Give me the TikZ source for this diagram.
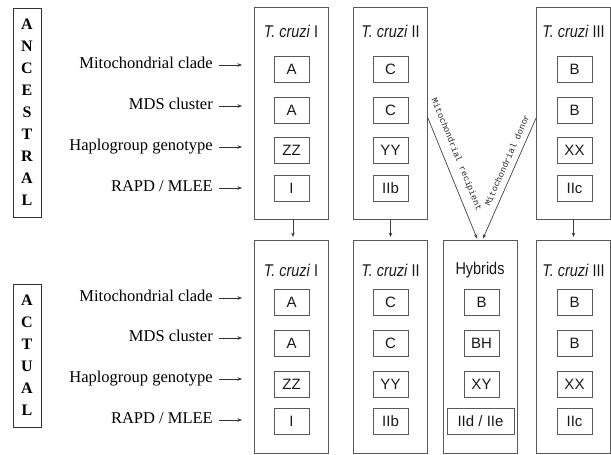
\documentclass[tikz,border=0pt]{standalone}
\usepackage{fontspec}
\setmainfont{Liberation Serif}
\setsansfont{Liberation Sans}
\setmonofont{Liberation Mono}
\newfontfamily\narrowsans[FakeStretch=0.85]{Liberation Sans}
\usetikzlibrary{arrows.meta,calc}
\begin{document}
\begin{tikzpicture}[x=1pt,y=-1pt,
  ln/.style={draw=black!65, line width=0.8pt},
  col/.style={ln, rectangle, minimum width=74pt, inner sep=0pt},
  topcol/.style={col, minimum height=212pt},
  botcol/.style={col, minimum height=213pt},
  ibox/.style={ln, rectangle, minimum width=35pt, minimum height=26pt, inner sep=0pt, font=\fontsize{15}{15}\sffamily, text=black!90},
  ttl/.style={font=\fontsize{17}{17}\narrowsans, text=black!90, inner sep=0pt},
  lbl/.style={anchor=east, font=\fontsize{16.5}{16.5}\selectfont, inner sep=0pt, text height=11pt, text depth=3.5pt},
  side/.style={draw=black!80, line width=0.8pt, font=\fontsize{16}{22}\selectfont\bfseries, align=center, inner sep=0pt, minimum width=28pt},
  tip/.style={-{Stealth[length=4.5pt,width=3.5pt]}},
  mono/.style={font=\fontsize{8.7}{8.7}\ttfamily, inner sep=0pt, text=black!85},
]
\useasboundingbox (0,0) rectangle (611,455);

% side boxes
\node[side, minimum height=209pt] (anc) at (27,112.5) {A\\N\\C\\E\\S\\T\\R\\A\\L};
\node[side, minimum height=143pt] (act) at (27,355.5) {A\\C\\T\\U\\A\\L};

% labels top
\node[lbl] (l1) at (213,65) {Mitochondrial clade};
\node[lbl] (l2) at (213,106) {MDS cluster};
\node[lbl] (l3) at (213,147) {Haplogroup genotype};
\node[lbl] (l4) at (213,188) {RAPD / MLEE};
% labels bottom
\node[lbl] (m1) at (213,298) {Mitochondrial clade};
\node[lbl] (m2) at (213,338) {MDS cluster};
\node[lbl] (m3) at (213,379) {Haplogroup genotype};
\node[lbl] (m4) at (213,420) {RAPD / MLEE};
\foreach \n in {l1,l2,l3,l4,m1,m2,m3,m4}
  \draw[black!80, line width=0.6pt, tip] ([xshift=6pt]\n.east) -- ([xshift=29pt]\n.east);

% columns top
\node[topcol] (t1) at (291,113) {};
\node[topcol] (t2) at (390.5,113) {};
\node[topcol] (t3) at (573.5,113) {};
% columns bottom
\node[botcol] (b1) at (291,346.5) {};
\node[botcol] (b2) at (390.5,346.5) {};
\node[botcol] (hy) at (480,346.5) {};
\node[botcol] (b3) at (573.5,346.5) {};

% titles
\node[ttl] (tt1) at (291,31) {\textit{T. cruzi} I};
\node[ttl] (tt2) at (390.5,31) {\textit{T. cruzi} II};
\node[ttl] (tt3) at (573.5,31) {\textit{T. cruzi} III};
\node[ttl] (bt1) at (291,270) {\textit{T. cruzi} I};
\node[ttl] (bt2) at (390.5,270) {\textit{T. cruzi} II};
\node[ttl] (bth) at (480,270) {Hybrids};
\node[ttl] (bt3) at (573.5,270) {\textit{T. cruzi} III};

% inner boxes top
\node[ibox] (t1a) at (291.5,69.5) {A};
\node[ibox] (t1b) at (291.5,110) {A};
\node[ibox] (t1c) at (291.5,150) {ZZ};
\node[ibox] (t1d) at (291.5,188.5) {I};
\node[ibox] (t2a) at (390.5,69.5) {C};
\node[ibox] (t2b) at (390.5,110) {C};
\node[ibox] (t2c) at (390.5,150) {YY};
\node[ibox] (t2d) at (390.5,188.5) {IIb};
\node[ibox] (t3a) at (574.5,69.5) {B};
\node[ibox] (t3b) at (574.5,110) {B};
\node[ibox] (t3c) at (574.5,150) {XX};
\node[ibox] (t3d) at (574.5,188.5) {IIc};
% inner boxes bottom
\node[ibox] (b1a) at (291.5,302.5) {A};
\node[ibox] (b1b) at (291.5,343.5) {A};
\node[ibox] (b1c) at (291.5,384) {ZZ};
\node[ibox] (b1d) at (291.5,421) {I};
\node[ibox] (b2a) at (390.5,302.5) {C};
\node[ibox] (b2b) at (390.5,343.5) {C};
\node[ibox] (b2c) at (390.5,384) {YY};
\node[ibox] (b2d) at (390.5,421) {IIb};
\node[ibox] (hya) at (481.5,302.5) {B};
\node[ibox] (hyb) at (481.5,343.5) {BH};
\node[ibox] (hyc) at (481.5,384) {XY};
\node[ibox, minimum width=67pt] (hyd) at (480.5,421) {IId / IIe};
\node[ibox] (b3a) at (574.5,302.5) {B};
\node[ibox] (b3b) at (574.5,343.5) {B};
\node[ibox] (b3c) at (574.5,384) {XX};
\node[ibox] (b3d) at (574.5,421) {IIc};

% vertical arrows
\draw[black!75, line width=0.6pt, tip, shorten >=2.5pt] ([xshift=2pt]t1.south) -- ([xshift=2pt]b1.north);
\draw[black!75, line width=0.6pt, tip, shorten >=2.5pt] (t2.south) -- (b2.north);
\draw[black!75, line width=0.6pt, tip, shorten >=2.5pt] (t3.south) -- (b3.north);

% crossing arrows
\coordinate (ry) at (0,118);
\draw[black!75, line width=0.7pt, tip, shorten >=1pt] (t2.east |- ry) -- ([xshift=-2.5pt]hy.north)
  node[mono, pos=0.34, sloped, above=8pt] {Mitochondrial recipient};
\draw[black!75, line width=0.7pt, tip, shorten >=1pt] (t3.west |- ry) -- ([xshift=2.5pt]hy.north)
  node[mono, pos=0.38, sloped, above=6pt] {Mitochondrial donor};
\end{tikzpicture}
\end{document}
